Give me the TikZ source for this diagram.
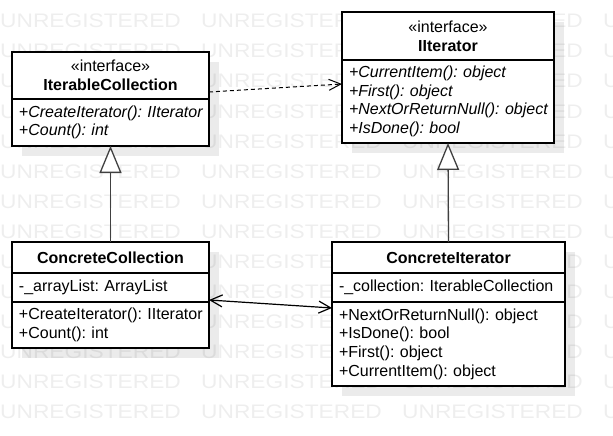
\documentclass[tikz,border=0pt]{standalone}
\usepackage{fontspec}
\setmainfont{Liberation Sans}
\usepackage{graphicx}
\usetikzlibrary{positioning}
\usetikzlibrary{arrows.meta}
\usetikzlibrary{backgrounds}
\pgfdeclarelayer{marks}
\pgfsetlayers{marks,background,main}
\definecolor{wmark}{RGB}{238,238,238}
\definecolor{linegray}{RGB}{64,64,64}
\newcommand{\umlfont}{\fontsize{16}{18.7}\selectfont\frenchspacing\hyphenpenalty=10000\exhyphenpenalty=10000}
\newcommand{\wmfont}{\fontsize{19.6}{20}\selectfont}
\tikzset{
	classbox/.style={draw=black, fill=white, line width=1.2pt, inner sep=0pt, outer sep=0pt, inner xsep=7pt, font=\umlfont},
	headbox/.style={classbox, align=center},
	membox/.style={classbox, align=left},
	wmtext/.style={anchor=base west, inner sep=0pt, text=wmark, font=\wmfont},
	shadowfill/.style={fill=black, fill opacity=0.08},
	realize/.style={line width=1pt, dash pattern=on 4pt off 3pt, -{Straight Barb[length=12pt, width=11pt]}},
	inherit/.style={draw=linegray, line width=1.3pt, -{Triangle[length=27pt, width=22pt, fill=white]}},
	assoc/.style={line width=1.2pt, {Straight Barb[length=12pt, width=12pt]}-{Straight Barb[length=12pt, width=12pt]}}
}

\begin{document}
\begin{tikzpicture}[x=1pt, y=-1pt]
\useasboundingbox (0,0) rectangle (613,436);

% watermark rows
\begin{pgfonlayer}{marks}
\foreach \row in {0,...,13} {
	\foreach \col in {0,201,402,603} {
		\node[wmtext] (wm\row-\col) at (\col, 28+30*\row) {\scalebox{1.16}[1]{UNREGISTERED}};
		};
	};
\end{pgfonlayer}

% interfaces
\node[headbox, text width=183pt, minimum height=47pt, anchor=north west] (icolhead) at (12,52) {«interface»\\\textbf{IterableCollection}};
\node[membox, text width=183pt, minimum height=47pt, below=0pt of icolhead] (icolops) {\mbox{\textit{+CreateIterator(): IIterator}}\\\textit{+Count(): int}};

\node[headbox, text width=198pt, minimum height=48pt, anchor=north west] (iiterhead) at (342,12) {«interface»\\\textbf{IIterator}};
\node[membox, text width=198pt, minimum height=83pt, below=0pt of iiterhead] (iiterops) {\textit{+CurrentItem(): object}\\\textit{+First(): object}\\\mbox{\textit{+NextOrReturnNull(): object}}\\\textit{+IsDone(): bool}};

% concrete classes
\node[headbox, text width=183pt, minimum height=31pt, anchor=north west] (ccolhead) at (12,242) {\textbf{ConcreteCollection}};
\node[membox, text width=183pt, minimum height=29pt, below=0pt of ccolhead] (ccolattr) {-\_arrayList: ArrayList};
\node[membox, text width=183pt, minimum height=46pt, below=0pt of ccolattr] (ccolops) {\mbox{+CreateIterator(): IIterator}\\+Count(): int};

\node[headbox, text width=219pt, minimum height=31pt, anchor=north west] (citerhead) at (332,242) {\textbf{ConcreteIterator}};
\node[membox, text width=219pt, minimum height=29pt, below=0pt of citerhead] (citerattr) {-\_collection: IterableCollection};
\node[membox, text width=219pt, minimum height=84pt, below=0pt of citerattr] (citerops) {+NextOrReturnNull(): object\\+IsDone(): bool\\+First(): object\\+CurrentItem(): object};

% shadows
\begin{pgfonlayer}{background}
\fill[shadowfill] ([shift={(10,10)}]icolhead.north west) rectangle ([shift={(10,10)}]icolops.south east);
\fill[shadowfill] ([shift={(10,10)}]iiterhead.north west) rectangle ([shift={(10,10)}]iiterops.south east);
\fill[shadowfill] ([shift={(10,10)}]ccolhead.north west) rectangle ([shift={(10,10)}]ccolops.south east);
\fill[shadowfill] ([shift={(10,10)}]citerhead.north west) rectangle ([shift={(10,10)}]citerops.south east);
\end{pgfonlayer}

% connectors
\draw[realize] ([yshift=7pt]icolhead.south east) -- ([yshift=-24pt]iiterops.north west);
\draw[inherit] (ccolhead.north) -- (icolops.south);
\draw[inherit] (citerhead.north) -- (iiterops.south);
\draw[assoc] ([yshift=2pt]ccolattr.south east) -- ([yshift=-6pt]citerops.north west);
\end{tikzpicture}
\end{document}
